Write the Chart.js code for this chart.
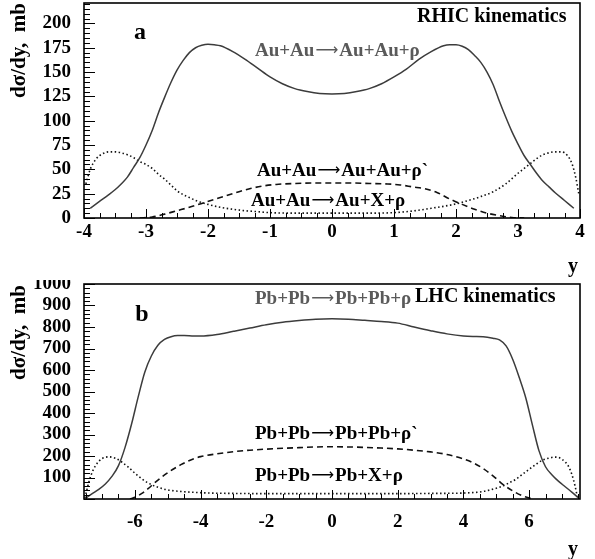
<!DOCTYPE html>
<html><head><meta charset="utf-8">
<script src="https://cdn.jsdelivr.net/npm/chart.js@4"></script>
<style>
html,body{margin:0;padding:0;background:#fff;}
#wrap{position:relative;width:595px;height:559px;overflow:hidden;}
canvas{position:absolute;left:0;}
</style></head><body>
<div id="wrap">
<canvas id="ca" width="595" height="280" style="top:0px"></canvas>
<canvas id="cb" width="595" height="279" style="top:280px"></canvas>
</div>
<script>
// ---------- Panel a (RHIC) ----------
const aXTicks = [-4,-3,-2,-1,0,1,2,3,4];
const aYTicks = [0,25,50,75,100,125,150,175,200];

const aSolidX = [-3.9,-3.75,-3.6,-3.5,-3.4,-3.3,-3.2,-3.1,-3.0,-2.9,-2.8,-2.7,-2.6,-2.5,-2.4,-2.3,-2.2,-2.1,-2.0,-1.9,-1.8,-1.6,-1.4,-1.2,-1.0,-0.8,-0.6,-0.4,-0.2,0,
                 0.2,0.4,0.6,0.8,1.0,1.2,1.4,1.6,1.8,1.9,2.0,2.1,2.2,2.3,2.4,2.5,2.6,2.7,2.8,2.9,3.0,3.1,3.2,3.3,3.4,3.5,3.6,3.75,3.9];
const aSolidY = [10,17,24,29,35,42,52,62,75,90,108,124,139,152,162,170,175,177.5,178.5,178,177,171,163,154,145,138,133,130,128,127.5,
                 128,130,133,138,145,153,163,171,177,178,178,176.5,173,167,160,150,137,120,104,89,76,64,55,46,38,32,26,18,10];

const aDotX = [-3.97,-3.9,-3.8,-3.7,-3.6,-3.5,-3.4,-3.3,-3.2,-3.1,-3.0,-2.9,-2.8,-2.7,-2.6,-2.5,-2.4,-2.3,-2.2,-2.0,-1.8,-1.6,-1.4,-1.2,-1.0,-0.5,0,
               0.5,1.0,1.2,1.4,1.6,1.8,2.0,2.2,2.4,2.6,2.8,3.0,3.1,3.2,3.3,3.4,3.5,3.6,3.7,3.8,3.87,3.93,3.98];
const aDotY = [35,50,61,66,68,68,67,65,62,58,55,51,45,40,34,28,24,21,18,14,11,9,7.5,6.5,5.5,5,5,
               5,5.5,6.5,8,10,12,14.5,18,22,27,35,46,51,56,61,65,67,68,68,64,56,42,25];

const aDashX = [-3.1,-2.9,-2.7,-2.5,-2.3,-2.1,-1.9,-1.7,-1.5,-1.3,-1.1,-0.9,-0.6,-0.3,0,
                0.3,0.6,0.9,1.1,1.3,1.5,1.7,1.9,2.1,2.3,2.5,2.7,2.9,3.1];
const aDashY = [0,1,4,7.5,11,15,19,23,27,30.5,33,34.5,35.5,36,36,
                36,35.5,35,34,32,30,26,19.5,14,9,5,2.5,0.5,0];

// ---------- Panel b (LHC) ----------
const bXTicks = [-6,-4,-2,0,2,4,6];
const bYTicks = [100,200,300,400,500,600,700,800,900,1000];

const bSolidX = [-7.5,-7.3,-7.1,-6.9,-6.7,-6.5,-6.3,-6.1,-5.9,-5.7,-5.5,-5.3,-5.1,-4.9,-4.7,-4.5,-4.2,-4.0,-3.5,-3.0,-2.5,-2.0,-1.5,-1.0,-0.5,0,
                 0.5,1.0,1.5,2.0,2.5,3.0,3.5,4.0,4.3,4.6,4.9,5.1,5.3,5.5,5.7,5.9,6.1,6.3,6.5,6.7,6.9,7.1,7.3,7.5];
const bSolidY = [3,25,45,70,105,155,240,350,475,590,665,715,742,755,760,760,758,758,765,780,795,810,822,830,836,838,
                 836,831,826,818,800,783,768,758,756,755,748,740,712,650,565,470,345,225,150,112,82,57,32,6];

const bDotX = [-7.52,-7.45,-7.4,-7.3,-7.2,-7.1,-7.0,-6.9,-6.8,-6.6,-6.4,-6.2,-6.0,-5.8,-5.6,-5.4,-5.2,-5.0,-4.6,-4.2,-3.8,-3.0,-2.0,-1.0,0,
               1,2,3,3.8,4.2,4.6,5.0,5.2,5.4,5.6,5.8,6.0,6.2,6.4,6.6,6.8,6.9,7.0,7.1,7.2,7.3,7.4,7.47];
const bDotY = [5,50,80,125,155,175,188,194,196,190,172,148,120,95,75,60,50,42,35,31,28,26,25,25,25,
               25,25,26,27,29,35,50,60,76,92,115,138,160,180,190,195,193,185,172,152,115,60,9];

const bDashX = [-6.15,-6.0,-5.8,-5.6,-5.4,-5.2,-5.0,-4.8,-4.6,-4.4,-4.2,-4.0,-3.5,-3.0,-2.5,-2.0,-1.5,-1.0,-0.5,0,
                0.5,1.0,1.5,2.0,2.5,3.0,3.5,4.0,4.3,4.6,4.9,5.2,5.5,5.8,6.0,6.15];
const bDashY = [0,8,25,48,75,100,122,142,160,175,188,197,210,220,227,232,236,239,242,243,
                242,240,237,233,227,219,207,186,168,142,108,68,38,15,5,0];

// ---------- helpers ----------
const SERIF = '"Liberation Serif", "Times New Roman", serif';
function pts(xs, ys){ return xs.map((x,i)=>({x:x, y:ys[i]})); }

function makeDatasets(sx, sy, dx, dy, hx, hy){
  return [
    {data: pts(sx, sy), borderColor:'#3c3c3c', borderWidth:1.5, pointRadius:0, cubicInterpolationMode:'monotone'},
    {data: pts(hx, hy), borderColor:'#111', borderWidth:1.6, borderDash:[6,4], pointRadius:0, cubicInterpolationMode:'monotone'},
    {data: pts(dx, dy), borderColor:'#111', borderWidth:1.6, borderDash:[1.5,2.5], pointRadius:0, cubicInterpolationMode:'monotone'}
  ];
}

// draw text in pieces so the arrow can use a font that has a long, centred arrow
function drawRich(ctx, t){
  const parts = t.text.split('\u2192');
  let x = t.x;
  const base = t.y + Math.round(t.size*0.33);
  ctx.textBaseline = 'alphabetic';
  ctx.textAlign = 'left';
  ctx.fillStyle = t.color || '#000';
  const mainFont = 'bold ' + t.size + 'px ' + SERIF;
  const arrowFont = (t.size - 3) + 'px "DejaVu Sans"';
  if (t.align === 'center'){
    ctx.font = mainFont;
    ctx.textAlign = 'center';
    ctx.fillText(t.text, x, base);
    return;
  }
  parts.forEach((p, i)=>{
    ctx.font = mainFont;
    ctx.fillText(p, x, base);
    x += ctx.measureText(p).width;
    if (i < parts.length - 1){
      ctx.font = arrowFont;
      ctx.fillText('\u27f6', x + 1, base - 1);
      x += ctx.measureText('\u27f6').width + 2;
    }
  });
}

function decoPlugin(o){
  return {
    id:'deco',
    afterDraw(chart){
      const ctx = chart.ctx, a = chart.chartArea;
      const xs = chart.scales.x, ys = chart.scales.y;
      ctx.save();
      ctx.strokeStyle = '#000';
      ctx.lineWidth = 1;
      const eps = 1e-6;
      for (let v = Math.ceil((xs.min - eps)/o.xMinor)*o.xMinor; v <= xs.max + eps; v += o.xMinor){
        const px = Math.round(xs.getPixelForValue(v)) + 0.5;
        const major = Math.abs(v/o.xMajor - Math.round(v/o.xMajor)) < 1e-4;
        const len = major ? 9 : 5;
        ctx.beginPath(); ctx.moveTo(px, a.bottom); ctx.lineTo(px, a.bottom - len); ctx.stroke();
      }
      for (let v = Math.ceil((ys.min - eps)/o.yMinor)*o.yMinor; v <= ys.max + eps; v += o.yMinor){
        const py = Math.round(ys.getPixelForValue(v)) + 0.5;
        const major = Math.abs(v/o.yMajor - Math.round(v/o.yMajor)) < 1e-4;
        const len = major ? 11 : 6;
        ctx.beginPath(); ctx.moveTo(a.left, py); ctx.lineTo(a.left + len, py); ctx.stroke();
      }
      ctx.lineWidth = 1.6;
      ctx.strokeRect(a.left, a.top, a.right - a.left, a.bottom - a.top);
      o.texts.forEach(t=> drawRich(ctx, t));
      ctx.save();
      ctx.translate(20, o.yTitleTop);
      ctx.rotate(-Math.PI/2);
      ctx.textAlign = 'right';
      ctx.textBaseline = 'middle';
      ctx.font = 'bold 21px ' + SERIF;
      ctx.fillStyle = '#000';
      ctx.fillText('d\u03c3/dy,  mb', 0, 0);
      ctx.restore();
      ctx.restore();
    }
  };
}

function makeChart(id, ds, xmin, xmax, ymin, ymax, xTicks, yTicks, padTop, xH, xPad, deco){
  return new Chart(document.getElementById(id), {
    type:'line',
    data:{datasets: ds},
    options:{
      responsive:false, animation:false, devicePixelRatio:1,
      layout:{padding:{left:0, right:15, top:padTop, bottom:0}},
      plugins:{legend:{display:false}, tooltip:{enabled:false}},
      scales:{
        x:{type:'linear', min:xmin, max:xmax,
           grid:{display:false, drawTicks:false}, border:{display:false},
           afterBuildTicks(s){ s.ticks = xTicks.map(v=>({value:v})); },
           afterFit(s){ s.height = xH; s.paddingLeft = 0; s.paddingRight = 0; },
           ticks:{autoSkip:false, maxRotation:0, padding:xPad, color:'#000',
                  font:{family:SERIF, size:19, weight:'bold'},
                  callback:(v)=>String(v)}},
        y:{type:'linear', min:ymin, max:ymax,
           grid:{display:false, drawTicks:false}, border:{display:false},
           afterBuildTicks(s){ s.ticks = yTicks.map(v=>({value:v})); },
           afterFit(s){ s.width = 84; s.paddingTop = 0; s.paddingBottom = 0; },
           ticks:{autoSkip:false, padding:13, color:'#000',
                  font:{family:SERIF, size:19, weight:'bold'},
                  callback:(v)=>String(v)}}
      }
    },
    plugins:[deco]
  });
}

makeChart('ca', makeDatasets(aSolidX,aSolidY,aDotX,aDotY,aDashX,aDashY), -4, 4, 0, 221,
  aXTicks, aYTicks, 3, 62, 3,
  decoPlugin({xMinor:0.25, xMajor:1, yMinor:5, yMajor:25, yTitleTop:3, texts:[
    {text:'a', x:140, y:31, size:24, align:'center'},
    {text:'RHIC kinematics', x:417, y:15, size:20},
    {text:'Au+Au\u2192Au+Au+\u03c1', x:255, y:50, size:19, color:'#5a5a5a'},
    {text:'Au+Au\u2192Au+Au+\u03c1`', x:257, y:170, size:19},
    {text:'Au+Au\u2192Au+X+\u03c1', x:251, y:200, size:19},
    {text:'y', x:573, y:265, size:20, align:'center'}
  ]}));

makeChart('cb', makeDatasets(bSolidX,bSolidY,bDotX,bDotY,bDashX,bDashY), -7.55, 7.55, 0, 1000,
  bXTicks, bYTicks, 4, 60, 12,
  decoPlugin({xMinor:0.5, xMajor:2, yMinor:20, yMajor:100, yTitleTop:5, texts:[
    {text:'b', x:142, y:33, size:24, align:'center'},
    {text:'LHC kinematics', x:415, y:15, size:20},
    {text:'Pb+Pb\u2192Pb+Pb+\u03c1', x:255, y:18, size:19, color:'#5a5a5a'},
    {text:'Pb+Pb\u2192Pb+Pb+\u03c1`', x:255, y:153, size:19},
    {text:'Pb+Pb\u2192Pb+X+\u03c1', x:255, y:195, size:19},
    {text:'y', x:573, y:268, size:20, align:'center'}
  ]}));
</script>
</body></html>
